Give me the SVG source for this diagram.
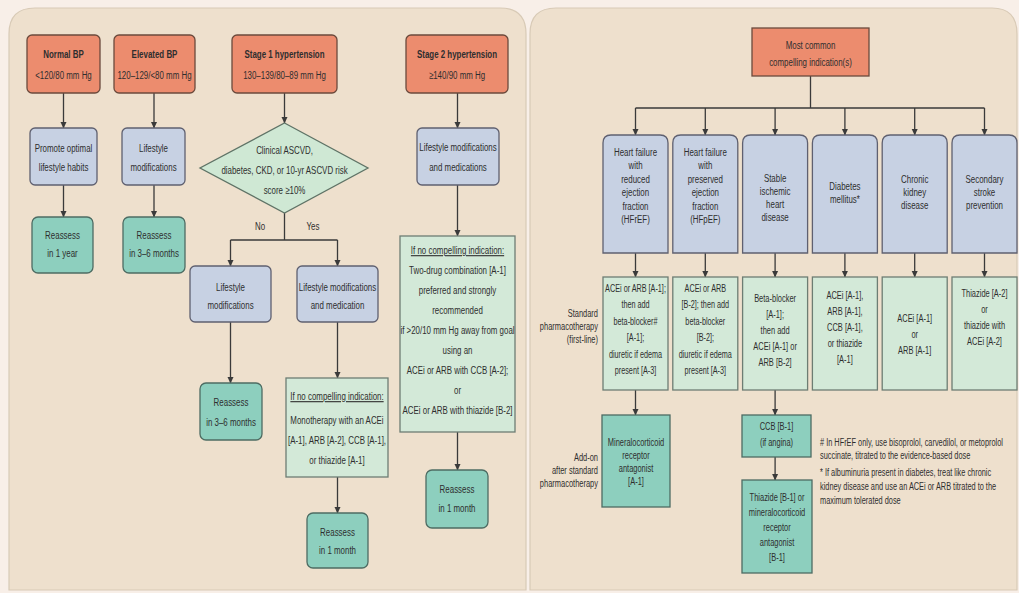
<svg xmlns="http://www.w3.org/2000/svg" width="1019" height="593" viewBox="0 0 1019 593">
<defs>
<marker id="ah" markerWidth="7" markerHeight="7" refX="6" refY="3.5" orient="auto" markerUnits="userSpaceOnUse"><path d="M0,0.5 L6.5,3.5 L0,6.5 z" fill="#3a3a3a"/></marker>
<style>
.t{font-family:"Liberation Sans",Arial,sans-serif;font-size:11px;fill:#2e2e2e;text-anchor:middle}
.b{font-weight:bold}
.s{text-anchor:start}
.e{text-anchor:end}
.u{text-decoration:underline}
.sal{fill:#ec8c6e;stroke:#6b4a3c;stroke-width:1.3}
.blu{fill:#c7d1e3;stroke:#5f6070;stroke-width:1.3}
.grn{fill:#d3e9d8;stroke:#6d7d73;stroke-width:1.3}
.tea{fill:#8dcfbe;stroke:#4d6c63;stroke-width:1.3}
.dia{fill:#cfe8d4;stroke:#5f7366;stroke-width:1.3}
.con path{stroke:#3a3a3a;stroke-width:1.3;fill:none}
.ar{marker-end:url(#ah)}
</style>
</defs>
<rect x="0" y="0" width="1019" height="593" fill="#f8efe8"/>
<g id="panels">
<path d="M9,34 Q9,8 35,8 L500,8 Q526,8 526,34 L526,590 L9,590 Z" fill="#eee0cd" stroke="#d8cab6" stroke-width="1.2"/>
<path d="M530,34 Q530,8 556,8 L992,8 Q1017,8 1017,34 L1017,590 L530,590 Z" fill="#eee0cd" stroke="#d8cab6" stroke-width="1.2"/>
</g>
<g id="connectors" class="con">
<path class="ar" d="M63.5,93 V128"/>
<path class="ar" d="M63.5,185 V217"/>
<path class="ar" d="M154,93 V128"/>
<path class="ar" d="M154,185 V217"/>
<path class="ar" d="M284.5,93 V123"/>
<path d="M284.5,213 V240 M230.5,240 H337.5"/>
<path class="ar" d="M230.5,240 V266"/>
<path class="ar" d="M337.5,240 V266"/>
<path class="ar" d="M230.5,322 V383"/>
<path class="ar" d="M337.5,322 V378"/>
<path class="ar" d="M337.5,477 V513"/>
<path class="ar" d="M457.5,93 V128"/>
<path class="ar" d="M457.5,185 V236"/>
<path class="ar" d="M457.5,432 V470"/>
<path d="M810.5,76 V108 M635.5,108 H984.5"/>
<path class="ar" d="M635.5,108 V135"/>
<path class="ar" d="M705.3,108 V135"/>
<path class="ar" d="M775.1,108 V135"/>
<path class="ar" d="M844.9,108 V135"/>
<path class="ar" d="M914.7,108 V135"/>
<path class="ar" d="M984.5,108 V135"/>
<path class="ar" d="M635.5,253 V277"/>
<path class="ar" d="M705.3,253 V277"/>
<path class="ar" d="M775.1,253 V277"/>
<path class="ar" d="M844.9,253 V277"/>
<path class="ar" d="M914.7,253 V277"/>
<path class="ar" d="M984.5,253 V277"/>
<path class="ar" d="M635.5,390 V415"/>
<path class="ar" d="M775.1,390 V415"/>
<path class="ar" d="M775.1,457 V480"/>
</g>
<g id="normal-bp">
<rect class="sal" x="27" y="35" width="73" height="58" rx="5"/>
<text class="t" transform="translate(63.5,0) scale(0.72,1)"><tspan class="b" x="0" y="58">Normal BP</tspan><tspan x="0" y="79">&lt;120/80 mm Hg</tspan></text>
</g>
<g id="elevated-bp">
<rect class="sal" x="114" y="35" width="81" height="58" rx="5"/>
<text class="t" transform="translate(154.5,0) scale(0.72,1)"><tspan class="b" x="0" y="58">Elevated BP</tspan><tspan x="0" y="79">120–129/&lt;80 mm Hg</tspan></text>
</g>
<g id="stage1">
<rect class="sal" x="232" y="35" width="105" height="58" rx="5"/>
<text class="t" transform="translate(284.5,0) scale(0.72,1)"><tspan class="b" x="0" y="58">Stage 1 hypertension</tspan><tspan x="0" y="79">130–139/80–89 mm Hg</tspan></text>
</g>
<g id="stage2">
<rect class="sal" x="406" y="35" width="102" height="58" rx="5"/>
<text class="t" transform="translate(457,0) scale(0.72,1)"><tspan class="b" x="0" y="58">Stage 2 hypertension</tspan><tspan x="0" y="79">≥140/90 mm Hg</tspan></text>
</g>
<g id="promote">
<rect class="blu" x="30" y="128" width="67" height="57" rx="5"/>
<text class="t" transform="translate(63.5,0) scale(0.72,1)"><tspan x="0" y="152">Promote optimal</tspan><tspan x="0" y="171">lifestyle habits</tspan></text>
</g>
<g id="elev-lifestyle">
<rect class="blu" x="122" y="128" width="63" height="57" rx="5"/>
<text class="t" transform="translate(153.5,0) scale(0.72,1)"><tspan x="0" y="152">Lifestyle</tspan><tspan x="0" y="171">modifications</tspan></text>
</g>
<g id="decision">
<path class="dia" d="M284.5,123 L368,168 L284.5,213 L200,168 Z"/>
<text class="t" transform="translate(284.5,0) scale(0.72,1)"><tspan x="0" y="154">Clinical ASCVD,</tspan><tspan x="0" y="174">diabetes, CKD, or 10-yr ASCVD risk</tspan><tspan x="0" y="194">score ≥10%</tspan></text>
</g>
<g id="s2-lifestyle">
<rect class="blu" x="417" y="128" width="82" height="57" rx="5"/>
<text class="t" transform="translate(458,0) scale(0.72,1)"><tspan x="0" y="151">Lifestyle modifications</tspan><tspan x="0" y="171">and medications</tspan></text>
</g>
<g id="reassess-1y">
<rect class="tea" x="32" y="217" width="61" height="56" rx="6"/>
<text class="t" transform="translate(62.5,0) scale(0.72,1)"><tspan x="0" y="239">Reassess</tspan><tspan x="0" y="257">in 1 year</tspan></text>
</g>
<g id="reassess-36a">
<rect class="tea" x="123" y="217" width="62" height="56" rx="6"/>
<text class="t" transform="translate(154,0) scale(0.72,1)"><tspan x="0" y="239">Reassess</tspan><tspan x="0" y="257">in 3–6 months</tspan></text>
</g>
<g id="labels-yn">
<text class="t" transform="translate(260,230) scale(0.72,1)">No</text>
<text class="t" transform="translate(313,230) scale(0.72,1)">Yes</text>
</g>
<g id="no-lifestyle">
<rect class="blu" x="190" y="266" width="81" height="56" rx="5"/>
<text class="t" transform="translate(230.5,0) scale(0.72,1)"><tspan x="0" y="291">Lifestyle</tspan><tspan x="0" y="309">modifications</tspan></text>
</g>
<g id="yes-lifestyle">
<rect class="blu" x="297" y="266" width="81" height="56" rx="5"/>
<text class="t" transform="translate(337.5,0) scale(0.72,1)"><tspan x="0" y="291">Lifestyle modifications</tspan><tspan x="0" y="309">and medication</tspan></text>
</g>
<g id="reassess-36b">
<rect class="tea" x="200" y="383" width="62" height="57" rx="6"/>
<text class="t" transform="translate(231,0) scale(0.72,1)"><tspan x="0" y="406">Reassess</tspan><tspan x="0" y="426">in 3–6 months</tspan></text>
</g>
<g id="monotherapy">
<rect class="grn" x="286" y="378" width="102" height="99"/>
<text class="t" transform="translate(337,0) scale(0.72,1)"><tspan class="u" x="0" y="400">If no compelling indication:</tspan><tspan x="0" y="424">Monotherapy with an ACEi</tspan><tspan x="0" y="444">[A-1], ARB [A-2], CCB [A-1],</tspan><tspan x="0" y="464">or thiazide [A-1]</tspan></text>
</g>
<g id="reassess-1m-a">
<rect class="tea" x="307" y="513" width="61" height="55" rx="6"/>
<text class="t" transform="translate(337.5,0) scale(0.72,1)"><tspan x="0" y="536">Reassess</tspan><tspan x="0" y="554">in 1 month</tspan></text>
</g>
<g id="two-drug">
<rect class="grn" x="400" y="236" width="115" height="196"/>
<text class="t" transform="translate(457.5,0) scale(0.72,1)"><tspan class="u" x="0" y="254">If no compelling indication:</tspan><tspan x="0" y="274">Two-drug combination [A-1]</tspan><tspan x="0" y="294">preferred and strongly</tspan><tspan x="0" y="314">recommended</tspan><tspan x="0" y="334">if &gt;20/10 mm Hg away from goal</tspan><tspan x="0" y="354">using an</tspan><tspan x="0" y="374">ACEi or ARB with CCB [A-2];</tspan><tspan x="0" y="394">or</tspan><tspan x="0" y="414">ACEi or ARB with thiazide [B-2]</tspan></text>
</g>
<g id="reassess-1m-b">
<rect class="tea" x="426" y="470" width="62" height="58" rx="6"/>
<text class="t" transform="translate(457,0) scale(0.72,1)"><tspan x="0" y="493">Reassess</tspan><tspan x="0" y="512">in 1 month</tspan></text>
</g>
<g id="compelling">
<rect class="sal" x="752" y="28" width="117" height="48"/>
<text class="t" transform="translate(810.5,0) scale(0.72,1)"><tspan x="0" y="49">Most common</tspan><tspan x="0" y="66">compelling indication(s)</tspan></text>
</g>
<g id="hfref">
<path class="blu" d="M603,253 V143 Q603,135 611,135 H660 Q668,135 668,143 V253 Z"/>
<text class="t" transform="translate(635.5,0) scale(0.72,1)"><tspan x="0" y="156">Heart failure</tspan><tspan x="0" y="169.5">with</tspan><tspan x="0" y="183">reduced</tspan><tspan x="0" y="196.5">ejection</tspan><tspan x="0" y="210">fraction</tspan><tspan x="0" y="223.5">(HFrEF)</tspan></text>
</g>
<g id="hfpef">
<path class="blu" d="M672.8,253 V143 Q672.8,135 680.8,135 H729.8 Q737.8,135 737.8,143 V253 Z"/>
<text class="t" transform="translate(705.3,0) scale(0.72,1)"><tspan x="0" y="156">Heart failure</tspan><tspan x="0" y="169.5">with</tspan><tspan x="0" y="183">preserved</tspan><tspan x="0" y="196.5">ejection</tspan><tspan x="0" y="210">fraction</tspan><tspan x="0" y="223.5">(HFpEF)</tspan></text>
</g>
<g id="sihd">
<path class="blu" d="M742.6,253 V143 Q742.6,135 750.6,135 H799.6 Q807.6,135 807.6,143 V253 Z"/>
<text class="t" transform="translate(775.1,0) scale(0.72,1)"><tspan x="0" y="182">Stable</tspan><tspan x="0" y="195">ischemic</tspan><tspan x="0" y="208">heart</tspan><tspan x="0" y="221">disease</tspan></text>
</g>
<g id="diabetes">
<path class="blu" d="M812.4,253 V143 Q812.4,135 820.4,135 H869.4 Q877.4,135 877.4,143 V253 Z"/>
<text class="t" transform="translate(844.9,0) scale(0.72,1)"><tspan x="0" y="190">Diabetes</tspan><tspan x="0" y="203">mellitus*</tspan></text>
</g>
<g id="ckd">
<path class="blu" d="M882.2,253 V143 Q882.2,135 890.2,135 H939.2 Q947.2,135 947.2,143 V253 Z"/>
<text class="t" transform="translate(914.7,0) scale(0.72,1)"><tspan x="0" y="183">Chronic</tspan><tspan x="0" y="196">kidney</tspan><tspan x="0" y="209">disease</tspan></text>
</g>
<g id="stroke">
<path class="blu" d="M952,253 V143 Q952,135 960,135 H1009 Q1017,135 1017,143 V253 Z"/>
<text class="t" transform="translate(984.5,0) scale(0.72,1)"><tspan x="0" y="183">Secondary</tspan><tspan x="0" y="196">stroke</tspan><tspan x="0" y="209">prevention</tspan></text>
</g>
<g id="label-standard">
<text class="t e" transform="translate(598,0) scale(0.68,1)"><tspan x="0" y="317">Standard</tspan><tspan x="0" y="330">pharmacotherapy</tspan><tspan x="0" y="343">(first-line)</tspan></text>
</g>
<g id="label-addon">
<text class="t e" transform="translate(598,0) scale(0.68,1)"><tspan x="0" y="461">Add-on</tspan><tspan x="0" y="474">after standard</tspan><tspan x="0" y="487">pharmacotherapy</tspan></text>
</g>
<g id="tx-hfref">
<rect class="grn" x="603" y="277" width="65" height="113"/>
<text class="t" transform="translate(635.5,0) scale(0.66,1)"><tspan x="0" y="292">ACEi or ARB [A-1];</tspan><tspan x="0" y="308.5">then add</tspan><tspan x="0" y="325">beta-blocker#</tspan><tspan x="0" y="341.5">[A-1];</tspan><tspan x="0" y="358">diuretic if edema</tspan><tspan x="0" y="374.5">present [A-3]</tspan></text>
</g>
<g id="tx-hfpef">
<rect class="grn" x="672.8" y="277" width="65" height="113"/>
<text class="t" transform="translate(705.3,0) scale(0.66,1)"><tspan x="0" y="292">ACEi or ARB</tspan><tspan x="0" y="308.5">[B-2]; then add</tspan><tspan x="0" y="325">beta-blocker</tspan><tspan x="0" y="341.5">[B-2];</tspan><tspan x="0" y="358">diuretic if edema</tspan><tspan x="0" y="374.5">present [A-3]</tspan></text>
</g>
<g id="tx-sihd">
<rect class="grn" x="742.6" y="277" width="65" height="113"/>
<text class="t" transform="translate(775.1,0) scale(0.68,1)"><tspan x="0" y="302">Beta-blocker</tspan><tspan x="0" y="318">[A-1];</tspan><tspan x="0" y="334">then add</tspan><tspan x="0" y="350">ACEi [A-1] or</tspan><tspan x="0" y="366">ARB [B-2]</tspan></text>
</g>
<g id="tx-diabetes">
<rect class="grn" x="812.4" y="277" width="65" height="113"/>
<text class="t" transform="translate(844.9,0) scale(0.68,1)"><tspan x="0" y="299">ACEi [A-1],</tspan><tspan x="0" y="315">ARB [A-1],</tspan><tspan x="0" y="331">CCB [A-1],</tspan><tspan x="0" y="347">or thiazide</tspan><tspan x="0" y="363">[A-1]</tspan></text>
</g>
<g id="tx-ckd">
<rect class="grn" x="882.2" y="277" width="65" height="113"/>
<text class="t" transform="translate(914.7,0) scale(0.68,1)"><tspan x="0" y="322">ACEi [A-1]</tspan><tspan x="0" y="338">or</tspan><tspan x="0" y="354">ARB [A-1]</tspan></text>
</g>
<g id="tx-stroke">
<rect class="grn" x="952" y="277" width="65" height="113"/>
<text class="t" transform="translate(984.5,0) scale(0.68,1)"><tspan x="0" y="297">Thiazide [A-2]</tspan><tspan x="0" y="313">or</tspan><tspan x="0" y="329">thiazide with</tspan><tspan x="0" y="345">ACEi [A-2]</tspan></text>
</g>
<g id="mra">
<rect class="tea" x="602" y="415" width="68" height="92"/>
<text class="t" transform="translate(636,0) scale(0.68,1)"><tspan x="0" y="446">Mineralocorticoid</tspan><tspan x="0" y="459">receptor</tspan><tspan x="0" y="472">antagonist</tspan><tspan x="0" y="485">[A-1]</tspan></text>
</g>
<g id="ccb">
<rect class="tea" x="742" y="415" width="69" height="42"/>
<text class="t" transform="translate(776.5,0) scale(0.68,1)"><tspan x="0" y="430">CCB [B-1]</tspan><tspan x="0" y="446">(if angina)</tspan></text>
</g>
<g id="thiazide-mra">
<rect class="tea" x="742" y="480" width="70" height="93"/>
<text class="t" transform="translate(777,0) scale(0.68,1)"><tspan x="0" y="501">Thiazide [B-1] or</tspan><tspan x="0" y="516">mineralocorticoid</tspan><tspan x="0" y="531">receptor</tspan><tspan x="0" y="546">antagonist</tspan><tspan x="0" y="561">[B-1]</tspan></text>
</g>
<g id="notes">
<text class="t s" transform="translate(820,0) scale(0.67,1)"><tspan x="0" y="446"># In HFrEF only, use bisoprolol, carvedilol, or metoprolol</tspan><tspan x="0" y="459">succinate, titrated to the evidence-based dose</tspan><tspan x="0" y="476">* If albuminuria present in diabetes, treat like chronic</tspan><tspan x="0" y="490">kidney disease and use an ACEi or ARB titrated to the</tspan><tspan x="0" y="504">maximum tolerated dose</tspan></text>
</g>
</svg>
